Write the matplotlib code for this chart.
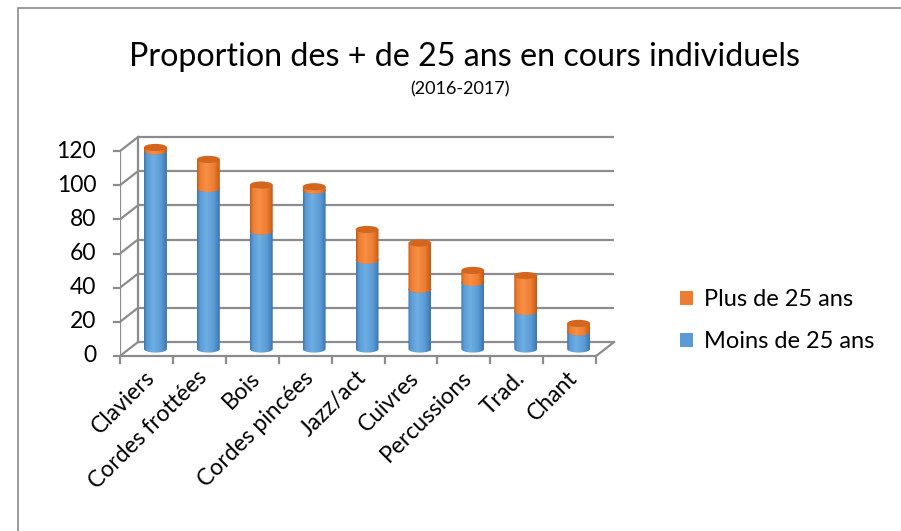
import numpy as np
import matplotlib
matplotlib.use("Agg")
import matplotlib.pyplot as plt
from matplotlib.patches import Ellipse, Polygon, Patch, Rectangle
from matplotlib.colors import LinearSegmentedColormap

# ---------------- data ----------------
categories = ["Claviers", "Cordes frottées", "Bois", "Cordes pincées", "Jazz/act",
              "Cuivres", "Percussions", "Trad.", "Chant"]
moins_25 = [116, 94, 69, 93, 52, 35, 39, 22, 10]
plus_25 = [2, 17, 27, 2, 18, 27, 7, 21, 5]
y_ticks = [0, 20, 40, 60, 80, 100, 120]
title = "Proportion des + de 25 ans en cours individuels"
subtitle = "(2016-2017)"
series_names = ["Moins de 25 ans", "Plus de 25 ans"]

# ---------------- style ----------------
FONT = "Lato"
plt.rcParams["font.family"] = [FONT, "DejaVu Sans"]
W, H = 901, 531
fig = plt.figure(figsize=(W / 100, H / 100), dpi=100)

blue = "#5B9BD5"
orange = "#ED7D31"
grid_c = "#8c8c8c"

# pixel geometry of the 3D box
px_x0 = 120.0      # front-left x pixel (category 0 edge)
px_cat = 52.9      # pixels per category
px_y0 = 356.0      # front floor y pixel (value 0)
px_val = 1.708     # pixels per value unit
depth_px = (18.0, 14.0)

dx = depth_px[0] / px_cat
dy = depth_px[1] / px_val

xmin, xmax = 0.0, 9.6
ymin, ymax = -30.0, 135.0
left = (px_x0 + xmin * px_cat) / W
width = (xmax - xmin) * px_cat / W
bottom = 1 - (px_y0 - ymin * px_val) / H
height = (ymax - ymin) * px_val / H
ax = fig.add_axes([left, bottom, width, height])
ax.set_xlim(xmin, xmax)
ax.set_ylim(ymin, ymax)
ax.axis("off")

n = len(categories)
FS = 16.5

# ---------------- walls & grid ----------------
lw = 1.6
for v in y_ticks:
    ax.plot([dx, n + dx], [v + dy, v + dy], color=grid_c, lw=lw, solid_capstyle="butt", zorder=1)
    ax.plot([0, dx], [v, v + dy], color=grid_c, lw=lw, zorder=1)
    ax.plot([-0.11, 0], [v, v], color=grid_c, lw=lw, clip_on=False, zorder=1)
ax.plot([0, 0], [0, y_ticks[-1]], color=grid_c, lw=lw, zorder=1)
ax.plot([dx, dx], [dy, y_ticks[-1] + dy], color=grid_c, lw=lw, zorder=1)
ax.plot([0, n], [0, 0], color=grid_c, lw=lw, zorder=1)
ax.plot([n, n + dx], [0, dy], color=grid_c, lw=lw, zorder=1)
for i in range(n + 1):
    ax.plot([i, i], [0, -4.2], color=grid_c, lw=lw, clip_on=False, zorder=1)

# y tick labels
for v in y_ticks:
    ax.text(-0.45, v, str(v), ha="right", va="center", fontsize=FS, color="black")

# category labels
for i, c in enumerate(categories):
    ax.text(i + 0.45, -6.5, c, rotation=45, rotation_mode="anchor",
            ha="right", va="top", fontsize=FS, color="black")

# ---------------- cylinders ----------------
rx = 0.217
ry = 2.1


def make_cmap(base, dark, light):
    return LinearSegmentedColormap.from_list(
        "c", [(0, dark), (0.12, base), (0.4, light), (0.75, base), (1, dark)])


cm_blue = make_cmap(blue, "#3d75b0", "#6eaee3")
cm_orange = make_cmap(orange, "#c25a17", "#f78f45")
grad = np.linspace(0, 1, 64).reshape(1, -1)


def cylinder(cx, y0, y1, cmap, top_color, z):
    t = np.linspace(0, np.pi, 40)
    pts = [(cx - rx, y1), (cx + rx, y1), (cx + rx, y0)]
    pts += [(cx + rx * np.cos(a), y0 - ry * np.sin(a)) for a in t]
    poly = Polygon(pts, closed=True, facecolor="none", edgecolor="none")
    ax.add_patch(poly)
    im = ax.imshow(grad, cmap=cmap, aspect="auto", interpolation="bilinear",
                   extent=[cx - rx, cx + rx, y0 - ry - 0.5, y1 + 0.5], zorder=z)
    im.set_clip_path(poly)
    ax.add_patch(Ellipse((cx, y1), 2 * rx, 2 * ry, facecolor=top_color,
                         edgecolor="none", zorder=z + 0.1))


for i in range(n):
    cx = i + 0.5 + dx / 2
    yoff = dy / 2
    b = moins_25[i]
    o = plus_25[i]
    cylinder(cx, yoff, yoff + b, cm_blue, "#4f8ccc", 3 + i * 0.01)
    cylinder(cx, yoff + b, yoff + b + o, cm_orange, "#d2661f", 3.5 + i * 0.01)

ax.set_xlim(xmin, xmax)
ax.set_ylim(ymin, ymax)

# ---------------- titles ----------------
fig.text(465 / W, 1 - 57 / H, title, ha="center", va="center", fontsize=23.2, color="black")
fig.text(460 / W, 1 - 89 / H, subtitle, ha="center", va="center", fontsize=13, color="black")

# ---------------- legend ----------------
handles = [Patch(facecolor=orange, edgecolor="none"), Patch(facecolor=blue, edgecolor="none")]
fig.legend(handles, [series_names[1], series_names[0]], loc="upper left",
           bbox_to_anchor=(659 / W, 1 - 268 / H), frameon=False, fontsize=17,
           handlelength=0.55, handleheight=0.55, handletextpad=0.45, labelspacing=0.9)

# chart frame
fig.add_artist(Rectangle((18 / W, -0.1), 2, 1 - 8 / H + 0.1, transform=fig.transFigure,
                         fill=False, edgecolor="#8a8a8a", lw=1.2))

fig.savefig("out.png", dpi=100)
